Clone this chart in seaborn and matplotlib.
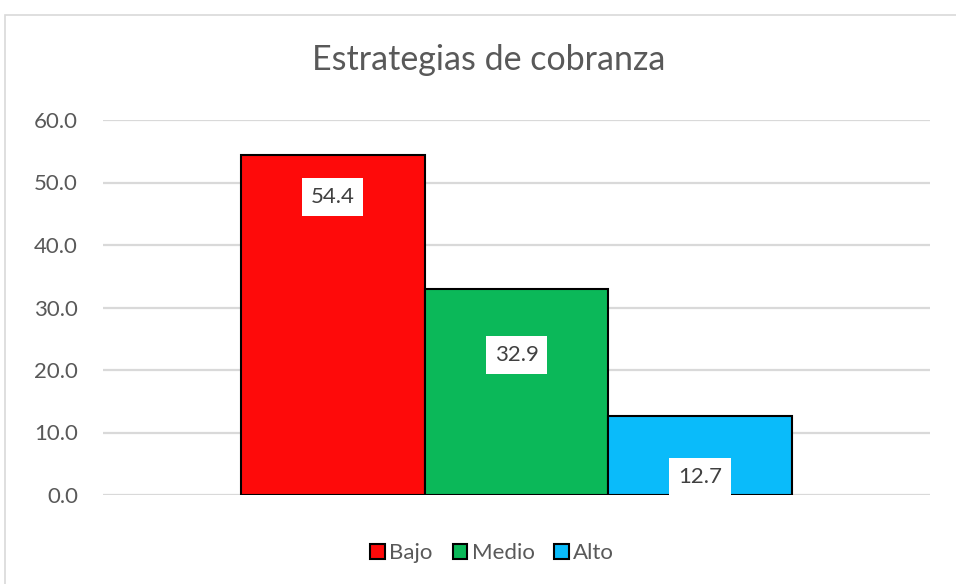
import pandas as pd
import seaborn as sns
import matplotlib.pyplot as plt
from matplotlib.patches import Rectangle

titulo = "Estrategias de cobranza"
niveles = ["Bajo", "Medio", "Alto"]
porcentajes = [54.4, 32.9, 12.7]
colores = ["#FE0A0A", "#0BB859", "#0ABBFA"]
y_ticks = [0, 10, 20, 30, 40, 50, 60]

data = pd.DataFrame({"grupo": ["Estrategias"] * 3, "nivel": niveles, "valor": porcentajes})

sns.set_style("white")
plt.rcParams['font.family'] = ['Lato', 'DejaVu Sans']
gris = "#595959"

fig = plt.figure(figsize=(9.56, 5.84), dpi=100)
fig.patches.append(Rectangle((5 / 956, -0.1), 1.1, 0.1 + (584 - 15) / 584,
                             transform=fig.transFigure, fill=False,
                             edgecolor="#D9D9D9", linewidth=1.2))
ax = fig.add_axes([103 / 956, 89 / 584, 827 / 956, 375 / 584])

sns.barplot(data=data, x="grupo", y="valor", hue="nivel", hue_order=niveles,
            palette=colores, width=0.667, gap=0, edgecolor="black", linewidth=1.5,
            saturation=1, legend=False, ax=ax, zorder=3)

ax.set_ylim(0, 60)
ax.set_xlim(-0.5, 0.5)
ax.set_yticks(y_ticks)
ax.set_yticklabels([f"{t:.1f}" for t in y_ticks], fontsize=16, color=gris)
ax.set_xticks([])
ax.set_xlabel("")
ax.set_ylabel("")
ax.tick_params(axis="y", length=0, pad=18)
ax.grid(axis="y", color="#D9D9D9", linewidth=1.6, zorder=0)
for s in ax.spines.values():
    s.set_visible(False)

# etiquetas de datos en cajas blancas
offsets = [-30, -47, -44]
for cont, off in zip(ax.containers, offsets):
    for bar in cont:
        h = bar.get_height()
        ax.annotate(f"{h:.1f}", (bar.get_x() + bar.get_width() / 2, h),
                    xytext=(0, off), textcoords="offset points",
                    ha="center", va="center", fontsize=16, color="#404040", zorder=5,
                    bbox=dict(boxstyle="square,pad=0.4", fc="white", ec="none"))

fig.text(0.511, (584 - 60) / 584, titulo, ha="center", va="center",
         fontsize=24.5, color=gris)

handles = [Rectangle((0, 0), 1, 1, facecolor=c, edgecolor="black", linewidth=1.5) for c in colores]
fig.legend(handles, niveles, loc="center", bbox_to_anchor=(0.515, (584 - 553) / 584),
           ncol=3, frameon=False, fontsize=16, handlelength=0.65, handleheight=0.65,
           handletextpad=0.2, columnspacing=0.9, labelcolor=gris)

fig.savefig("out.png", dpi=100)
